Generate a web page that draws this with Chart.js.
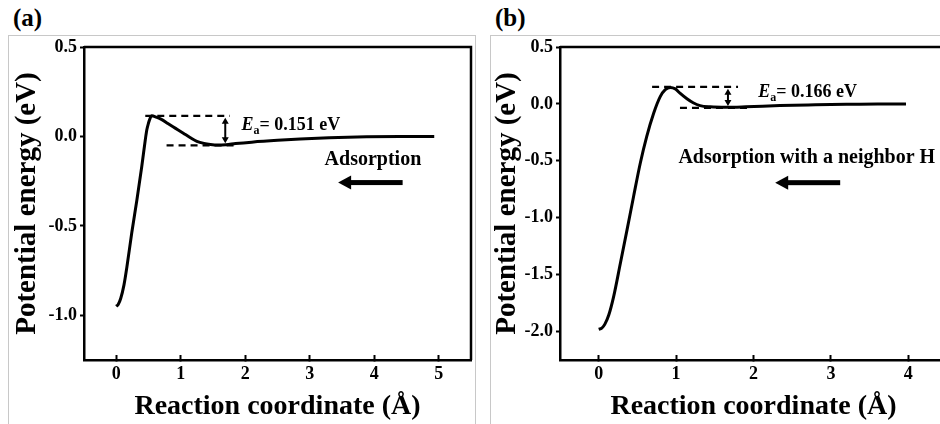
<!DOCTYPE html>
<html>
<head>
<meta charset="utf-8">
<script src="https://cdn.jsdelivr.net/npm/chart.js@4.4.1/dist/chart.umd.min.js"></script>
<style>
  html, body { margin: 0; padding: 0; background: #fff; }
  body { width: 940px; height: 424px; overflow: hidden; position: relative; font-family: "Liberation Serif", serif; }
  .frame { position: absolute; border-left: 1px solid #c8c8c8; border-top: 1px solid #c8c8c8; }
  .tag { position: absolute; font-weight: bold; font-size: 25px; line-height: 1; }
  .panel { position: absolute; top: 0; }
</style>
</head>
<body>
<div class="frame" style="left:8px;top:35px;width:466px;height:400px;border-right:1px solid #c8c8c8"></div>
<div class="frame" style="left:490px;top:35px;width:460px;height:400px"></div>
<div class="tag" style="left:13px;top:5px">(a)</div>
<div class="tag" style="left:495px;top:5px">(b)</div>
<div class="panel" style="left:0"><canvas id="chartA" width="480" height="424"></canvas></div>
<div class="panel" style="left:480px"><canvas id="chartB" width="480" height="424"></canvas></div>

<script>
// panel (a): adsorption
const xTicksA = [0, 1, 2, 3, 4, 5];
const yTicksA = [0.5, 0, -0.5, -1];
const coordA = [0, 0.03, 0.07, 0.12, 0.165, 0.24, 0.32, 0.395, 0.45, 0.474, 0.5, 0.526, 0.55, 0.62, 0.7, 0.8, 0.92, 1.04, 1.15, 1.25, 1.36, 1.46, 1.58, 1.7, 1.85, 2.1, 2.5, 2.85, 3.3, 3.88, 4.4, 4.93];
const energyA = [-0.95, -0.94, -0.905, -0.83, -0.73, -0.54, -0.355, -0.17, -0.02, 0.037, 0.075, 0.103, 0.115, 0.108, 0.095, 0.072, 0.045, 0.018, -0.007, -0.027, -0.039, -0.045, -0.048, -0.046, -0.04, -0.032, -0.022, -0.015, -0.008, -0.002, 0, 0];

// panel (b): adsorption with a neighbor H
const xTicksB = [0, 1, 2, 3, 4];
const yTicksB = [0.5, 0, -0.5, -1, -1.5, -2];
const coordB = [0, 0.04, 0.08, 0.13, 0.193, 0.28, 0.366, 0.45, 0.537, 0.62, 0.71, 0.795, 0.86, 0.924, 0.99, 1.05, 1.14, 1.22, 1.31, 1.44, 1.65, 1.9, 2.34, 2.8, 3.2, 3.6, 3.97];
const energyB = [-1.98, -1.97, -1.935, -1.855, -1.693, -1.4, -1.107, -0.815, -0.521, -0.287, -0.082, 0.064, 0.125, 0.145, 0.132, 0.094, 0.045, 0.01, -0.015, -0.026, -0.03, -0.026, -0.015, -0.008, -0.003, 0, 0];

// barrier marks and labels, in axis units
const barrierA = { top: 0.115, bottom: -0.05, topFrom: 0.45, topTo: 1.76, botFrom: 0.78, botTo: 1.84, arrowX: 1.69, label: '= 0.151 eV', labelX: 1.94, labelY: 0.037 };
const barrierB = { top: 0.15, bottom: -0.035, topFrom: 0.69, topTo: 1.8, botFrom: 1.05, botTo: 1.93, arrowX: 1.67, label: '= 0.166 eV', labelX: 2.06, labelY: 0.065 };
const processA = { text: 'Adsorption', x: 3.23, y: -0.158, tail: 4.44, tip: 3.44, arrowY: -0.258 };
const processB = { text: 'Adsorption with a neighbor H', x: 1.03, y: -0.521, tail: 3.12, tip: 2.28, arrowY: -0.692 };

const serif = '"Liberation Serif", "Times New Roman", serif';
Chart.defaults.color = '#000';

const annotate = {
  id: 'annotate',
  afterDatasetsDraw(chart, args, opts) {
    const { ctx, chartArea: a, scales: { x, y } } = chart;
    const px = v => x.getPixelForValue(v);
    const py = v => y.getPixelForValue(v);
    const b = opts.barrier, p = opts.process;
    ctx.save();
    ctx.strokeStyle = '#000';
    ctx.fillStyle = '#000';

    // top and right frame
    ctx.lineWidth = 2.5;
    ctx.beginPath();
    ctx.moveTo(a.left, a.top);
    ctx.lineTo(a.right, a.top);
    ctx.lineTo(a.right, a.bottom);
    ctx.stroke();

    // dashed levels
    ctx.lineWidth = 2.2;
    ctx.setLineDash([7, 5]);
    ctx.beginPath();
    ctx.moveTo(px(b.topFrom), py(b.top));
    ctx.lineTo(px(b.topTo), py(b.top));
    ctx.moveTo(px(b.botFrom), py(b.bottom));
    ctx.lineTo(px(b.botTo), py(b.bottom));
    ctx.stroke();
    ctx.setLineDash([]);

    // double headed arrow
    const ax = px(b.arrowX), y1 = py(b.top) + 2, y2 = py(b.bottom) - 2;
    ctx.lineWidth = 2;
    ctx.beginPath();
    ctx.moveTo(ax, y1 + 5);
    ctx.lineTo(ax, y2 - 5);
    ctx.stroke();
    ctx.beginPath();
    ctx.moveTo(ax, y1); ctx.lineTo(ax - 3.5, y1 + 6); ctx.lineTo(ax + 3.5, y1 + 6); ctx.closePath();
    ctx.moveTo(ax, y2); ctx.lineTo(ax - 3.5, y2 - 6); ctx.lineTo(ax + 3.5, y2 - 6); ctx.closePath();
    ctx.fill();

    // E_a label
    let tx = px(b.labelX);
    const ty = py(b.labelY);
    ctx.textBaseline = 'alphabetic';
    ctx.textAlign = 'left';
    ctx.font = 'italic bold 18px ' + serif;
    ctx.fillText('E', tx, ty);
    tx += ctx.measureText('E').width;
    ctx.font = 'bold 12px ' + serif;
    ctx.fillText('a', tx, ty + 4);
    tx += ctx.measureText('a').width;
    ctx.font = 'bold 18px ' + serif;
    ctx.fillText(b.label, tx, ty);

    // process label and arrow
    ctx.font = 'bold 20px ' + serif;
    ctx.fillText(p.text, px(p.x), py(p.y));
    const tip = px(p.tip), tail = px(p.tail), ay = py(p.arrowY);
    ctx.fillRect(tip + 11, ay - 2.5, tail - tip - 11, 5);
    ctx.beginPath();
    ctx.moveTo(tip, ay); ctx.lineTo(tip + 13, ay - 7); ctx.lineTo(tip + 13, ay + 7); ctx.closePath();
    ctx.fill();
    ctx.restore();
  }
};

function makeChart(id, cfg) {
  const tickFont = { family: serif, size: 18, weight: 'bold' };
  const titleFont = { family: serif, size: 28, weight: 'bold' };
  return new Chart(document.getElementById(id), {
    type: 'scatter',
    data: {
      datasets: [{
        data: cfg.xs.map((v, i) => ({ x: v, y: cfg.ys[i] })),
        showLine: true,
        borderColor: '#000',
        borderWidth: 3,
        pointRadius: 0,
        tension: 0.4,
        cubicInterpolationMode: 'monotone'
      }]
    },
    options: {
      responsive: false,
      animation: false,
      devicePixelRatio: 1,
      layout: { padding: { top: 47, right: cfg.padRight, bottom: 0, left: 0 } },
      plugins: { legend: { display: false }, tooltip: { enabled: false }, annotate: { barrier: cfg.barrier, process: cfg.process } },
      scales: {
        x: {
          type: 'linear',
          min: -0.5,
          max: cfg.xMax,
          afterBuildTicks: s => { s.ticks = cfg.xTicks.map(v => ({ value: v })); },
          afterFit: s => { s.height = 64; },
          ticks: { font: tickFont, color: '#000', padding: 9, callback: v => v.toFixed(0) },
          grid: { drawOnChartArea: false, tickLength: -5, tickWidth: 2, tickColor: '#000' },
          border: { color: '#000', width: 2.5 },
          title: { display: true, text: 'Reaction coordinate (Å)', font: titleFont, color: '#000', padding: { top: 0, bottom: 0 } }
        },
        y: {
          min: cfg.yMin,
          max: 0.5,
          afterBuildTicks: s => { s.ticks = cfg.yTicks.map(v => ({ value: v })); },
          afterFit: s => { s.width = cfg.axisWidth; },
          ticks: { font: tickFont, color: '#000', padding: 3, callback: v => v.toFixed(1) },
          grid: { drawOnChartArea: false, tickLength: 4, tickWidth: 2, tickColor: '#000' },
          border: { color: '#000', width: 2.5 },
          title: { display: true, text: 'Potential energy (eV)', font: { family: serif, size: 29, weight: 'bold' }, color: '#000', padding: { top: 10, bottom: 0 } }
        }
      }
    },
    plugins: [annotate]
  });
}

makeChart('chartA', { xs: coordA, ys: energyA, xTicks: xTicksA, yTicks: yTicksA, xMax: 5.5, yMin: -1.25, axisWidth: 84, padRight: 9, barrier: barrierA, process: processA });
makeChart('chartB', { xs: coordB, ys: energyB, xTicks: xTicksB, yTicks: yTicksB, xMax: 4.5, yMin: -2.25, axisWidth: 80, padRight: 13, barrier: barrierB, process: processB });
</script>
</body>
</html>
